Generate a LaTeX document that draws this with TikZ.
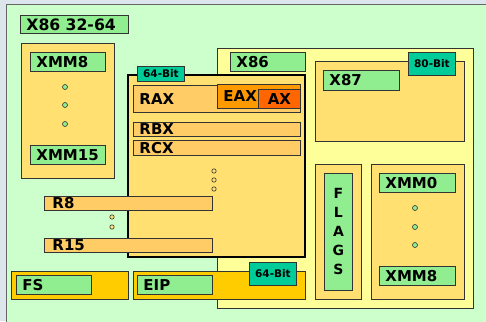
\documentclass[tikz,border=0pt]{standalone}
\usepackage{fontspec}
\setmainfont{DejaVu Sans}
\usetikzlibrary{positioning}
\definecolor{bgout}{HTML}{DCE5EB}
\definecolor{bggreen}{HTML}{CCFFCC}
\definecolor{lgreen}{HTML}{90EE90}
\definecolor{paleyel}{HTML}{FFFF99}
\definecolor{midyel}{HTML}{FFE070}
\definecolor{regorange}{HTML}{FFCC66}
\definecolor{eaxorange}{HTML}{FF9900}
\definecolor{axorange}{HTML}{FF6600}
\definecolor{goldbar}{HTML}{FFCC00}
\definecolor{tagteal}{HTML}{00CC99}
\tikzset{
panel/.style={draw=black!80,line width=0.9pt},
gprpanel/.style={draw=black,line width=1.4pt,fill=midyel},
reg/.style={draw=black!80,line width=0.9pt,fill=lgreen,anchor=north west,inner xsep=6pt,inner ysep=0pt,align=left,font=\fontsize{15}{16}\selectfont\bfseries},
bar/.style={reg,fill=regorange},
tagbox/.style={draw=black!80,line width=0.9pt,fill=tagteal,anchor=north west,inner sep=0pt,font=\fontsize{10.5}{12}\selectfont\bfseries},
flagbox/.style={draw=black!80,line width=0.9pt,fill=lgreen,anchor=north west,inner sep=0pt,align=center,font=\fontsize{14}{19}\selectfont\bfseries},
gdot/.style={draw=black!80,line width=0.6pt,fill=lgreen},
ydot/.style={draw=black!80,line width=0.6pt,fill=midyel}
}
\begin{document}
\begin{tikzpicture}[x=1pt,y=-1pt]
\useasboundingbox (0,0) rectangle (486,321);
\fill[bgout] (0,0) rectangle (486,321);
\draw[fill=bggreen,draw=black!60,line width=1pt] (6,5) rectangle (492,327);
\node[reg,font=\fontsize{15.7}{16}\selectfont\bfseries,text width=96pt,minimum height=18pt] (title) at (20,15) {X86 32-64};
% left XMM bank
\draw[panel,fill=midyel] (21,43) rectangle (114,178);
\node[reg,text width=63pt,minimum height=19pt] (xmmeight) at (30,52) {XMM8};
\node[reg,text width=63pt,minimum height=19pt] (xmmfifteen) at (30,145) {XMM15};
\foreach \y in {87,105,124} \draw[gdot] (65,\y) circle (2.5pt);
% x86 part
\draw[panel,fill=paleyel] (217,48) rectangle (473,308);
\node[reg,text width=63pt,minimum height=19pt] (xeightysix) at (230,52) {X86};
\draw[panel,fill=midyel] (315,61) rectangle (464,141);
\node[tagbox,minimum width=47pt,minimum height=23pt] (tageighty) at (408,52) {80-Bit};
\node[reg,text width=64pt,minimum height=20pt] (xeightyseven) at (323,70) {X87};
\draw[panel,fill=midyel] (315,164) rectangle (361,299);
\node[flagbox,minimum width=28pt,minimum height=117pt] (flags) at (324,173) {F\\L\\A\\G\\S};
\draw[panel,fill=midyel] (371,164) rectangle (464,299);
\node[reg,text width=64pt,minimum height=19pt] (xmmzero) at (379,173) {XMM0};
\node[reg,text width=64pt,minimum height=19pt] (xmmeightb) at (379,266) {XMM8};
\foreach \y in {208,227,245} \draw[gdot] (415,\y) circle (2.5pt);
% general purpose registers
\draw[gprpanel] (128,75) rectangle (305,257);
\node[tagbox,minimum width=47pt,minimum height=15pt] (tagsixtyfour) at (137,66) {64-Bit};
\node[bar,text width=155pt,minimum height=27pt] (rax) at (133,85) {RAX};
\node[reg,fill=eaxorange,text width=71pt,minimum height=24pt] (eax) at (217,84) {EAX};
\node[reg,fill=axorange,align=center,inner xsep=0pt,text width=42pt,minimum height=19pt] (ax) at (258,89) {AX};
\node[bar,text width=155pt,minimum height=14pt] (rbx) at (133,122) {RBX};
\node[bar,text width=155pt,minimum height=15pt] (rcx) at (133,140) {RCX};
\foreach \y in {171,180,189} \draw[ydot] (214,\y) circle (2.2pt);
\node[bar,inner xsep=8pt,text width=152pt,minimum height=14pt] (reight) at (44,196) {R8};
\node[bar,inner xsep=8pt,text width=152pt,minimum height=14pt] (rfifteen) at (44,238) {R15};
\foreach \y in {217,227} \draw[ydot] (112,\y) circle (2.2pt);
% segment and instruction pointer
\draw[panel,fill=goldbar] (11,271) rectangle (128,299);
\node[reg,text width=63pt,minimum height=19pt] (fs) at (16,275) {FS};
\draw[panel,fill=goldbar] (133,271) rectangle (305,299);
\node[reg,text width=63pt,minimum height=19pt] (eip) at (137,275) {EIP};
\node[tagbox,minimum width=47pt,minimum height=23pt] (tageip) at (249,262) {64-Bit};
\end{tikzpicture}
\end{document}
